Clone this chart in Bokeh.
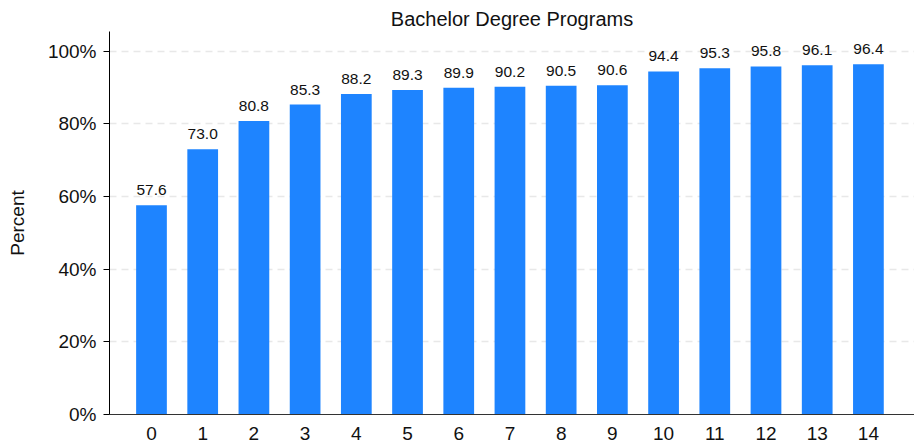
from bokeh.plotting import figure
from bokeh.models import ColumnDataSource, FixedTicker, CustomJSTickFormatter, Range1d, LabelSet
from bokeh.core.properties import value
from bokeh.embed import file_html
from bokeh.resources import INLINE

categories = list(range(15))
values = [57.6, 73.0, 80.8, 85.3, 88.2, 89.3, 89.9, 90.2, 90.5, 90.6, 94.4, 95.3, 95.8, 96.1, 96.4]
labels = [f"{v:.1f}" for v in values]
y_ticks = [0, 20, 40, 60, 80, 100]

src = ColumnDataSource(dict(x=categories, top=values, lab=labels))

FONT = "Liberation Sans"
TXT = "#111111"
p = figure(frame_width=805, frame_height=383, output_backend="svg", toolbar_location=None,
           x_range=Range1d(-0.82, 14.9), y_range=Range1d(0, 105.4),
           min_border_left=0, min_border_right=0, min_border_top=0, min_border_bottom=0,
           margin=(4, 0, 0, 3),
           title="Bachelor Degree Programs")
p.outline_line_color = None
p.title.align = "center"
p.title.text_font = FONT
p.title.text_font_size = "20px"
p.title.text_font_style = "normal"
p.title.text_color = TXT
p.title.offset = 0
p.title.standoff = 3

p.vbar(x="x", top="top", width=0.6, source=src, color="#1e84ff", line_color=None)
p.add_layout(LabelSet(x="x", y="top", text="lab", source=src, text_align="center",
                      text_baseline="bottom", y_offset=10, text_font=value(FONT),
                      text_font_size="15.5px", text_color=TXT))

p.xgrid.visible = False
p.ygrid.ticker = FixedTicker(ticks=y_ticks)
p.ygrid.grid_line_color = "#e8e8e8"
p.ygrid.grid_line_dash = "7 5"
p.ygrid.grid_line_width = 1.5

p.yaxis.ticker = FixedTicker(ticks=y_ticks)
p.yaxis.formatter = CustomJSTickFormatter(code="return tick + '%';")
p.yaxis.axis_label = "Percent"
p.yaxis.axis_label_text_font = FONT
p.yaxis.axis_label_text_font_style = "normal"
p.yaxis.axis_label_text_font_size = "19px"
p.yaxis.axis_label_text_color = TXT
p.yaxis.axis_label_standoff = 17
p.yaxis.major_label_text_font = FONT
p.yaxis.major_label_text_font_size = "19px"
p.yaxis.major_label_text_color = TXT
p.yaxis.major_label_standoff = 7
p.yaxis.axis_line_color = "black"
p.yaxis.major_tick_line_color = "black"
p.yaxis.major_tick_out = 6
p.yaxis.major_tick_in = 0
p.yaxis.minor_tick_line_color = None

p.xaxis.ticker = FixedTicker(ticks=categories)
p.xaxis.major_label_text_font = FONT
p.xaxis.major_label_text_font_size = "19px"
p.xaxis.major_label_text_color = TXT
p.xaxis.axis_line_color = "#333333"
p.xaxis.major_tick_line_color = None
p.xaxis.major_tick_out = 0
p.xaxis.major_tick_in = 0
p.xaxis.minor_tick_line_color = None
p.xaxis.major_label_standoff = 12

open("out.html", "w").write(file_html(p, INLINE))
